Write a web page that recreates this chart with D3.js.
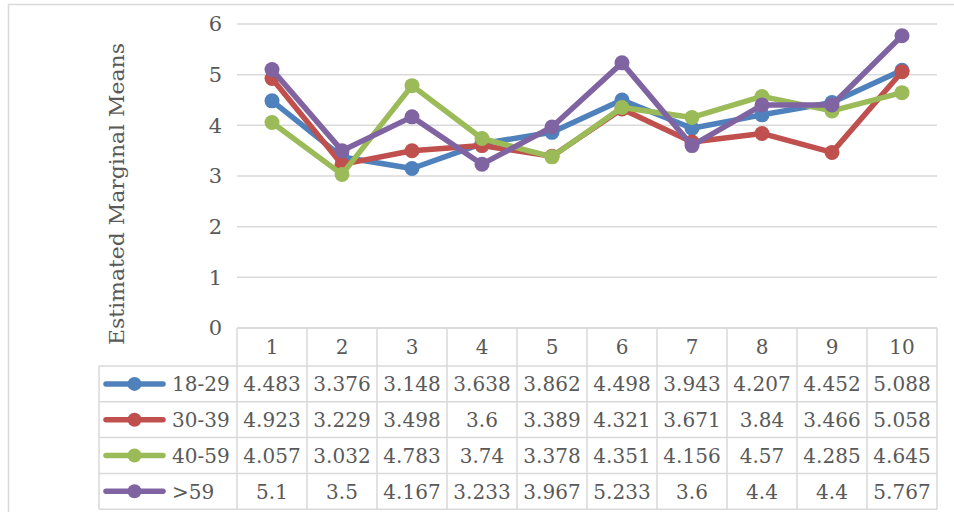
<!DOCTYPE html>
<html>
<head>
<meta charset="utf-8">
<script src="https://cdn.jsdelivr.net/npm/d3@7"></script>
<style>
    body { margin: 0; background: #fff; }
    text { font-family: "DejaVu Serif", serif; fill: #595959; }
</style>
</head>
<body>
<div id="chart"></div>
<script>
// data
const categories = ['1', '2', '3', '4', '5', '6', '7', '8', '9', '10'];
const seriesNames = ['18-29', '30-39', '40-59', '>59'];
const seriesColors = ['#4f81bd', '#c0504d', '#9bbb59', '#8064a2'];
const age1829 = [4.483, 3.376, 3.148, 3.638, 3.862, 4.498, 3.943, 4.207, 4.452, 5.088];
const age3039 = [4.923, 3.229, 3.498, 3.6, 3.389, 4.321, 3.671, 3.84, 3.466, 5.058];
const age4059 = [4.057, 3.032, 4.783, 3.74, 3.378, 4.351, 4.156, 4.57, 4.285, 4.645];
const age59 = [5.1, 3.5, 4.167, 3.233, 3.967, 5.233, 3.6, 4.4, 4.4, 5.767];
const yTicks = [0, 1, 2, 3, 4, 5, 6];

const seriesValues = [age1829, age3039, age4059, age59];
const series = seriesNames.map((name, i) => ({name: name, color: seriesColors[i], values: seriesValues[i]}));

const W = 954, H = 512;
const plot = {left: 237, right: 937, top: 24, bottom: 328};
const headerH = 38, rowH = 35.8;
const keyLeft = 99;

const svg = d3.select('#chart').append('svg')
    .attr('width', W)
    .attr('height', H);

// outer chart border (runs off the picture on the right and bottom)
svg.append('rect')
    .attr('x', 8.5).attr('y', 4.5)
    .attr('width', W + 20).attr('height', H + 20)
    .attr('fill', 'none')
    .attr('stroke', '#d9d9d9')
    .attr('stroke-width', 1.5);

const x = d3.scaleBand()
    .domain(categories)
    .range([plot.left, plot.right]);

const y = d3.scaleLinear()
    .domain([0, 6])
    .range([plot.bottom, plot.top]);

// gridlines
svg.append('g')
    .selectAll('line')
    .data(yTicks)
    .enter()
    .append('line')
    .attr('x1', plot.left)
    .attr('x2', plot.right)
    .attr('y1', d => y(d))
    .attr('y2', d => y(d))
    .attr('stroke', '#d9d9d9')
    .attr('stroke-width', 1.5);

// y axis labels
const yAxis = svg.append('g')
    .attr('transform', `translate(${plot.left - 15}, 0)`)
    .call(d3.axisLeft(y).tickValues(yTicks).tickFormat(d3.format('d')).tickSize(0).tickPadding(0));
yAxis.select('.domain').remove();
yAxis.selectAll('text')
    .style('font-size', '21px')
    .style('font-family', '"DejaVu Serif", serif')
    .attr('fill', '#595959');

// y axis title
svg.append('text')
    .attr('transform', `translate(124, 194) rotate(-90)`)
    .attr('text-anchor', 'middle')
    .style('font-size', '21px')
    .attr('textLength', 302)
    .attr('lengthAdjust', 'spacingAndGlyphs')
    .text('Estimated Marginal Means');

// lines and markers
const line = d3.line()
    .x((d, i) => x(categories[i]) + x.bandwidth() / 2)
    .y(d => y(d));

series.forEach(s => {
    const g = svg.append('g');
    g.append('path')
        .datum(s.values)
        .attr('d', line)
        .attr('fill', 'none')
        .attr('stroke', s.color)
        .attr('stroke-width', 5.5)
        .attr('stroke-linejoin', 'round');
    g.selectAll('circle')
        .data(s.values)
        .enter()
        .append('circle')
        .attr('cx', (d, i) => x(categories[i]) + x.bandwidth() / 2)
        .attr('cy', d => y(d))
        .attr('r', 7.5)
        .attr('fill', s.color);
});

// data table
const table = svg.append('g');
const tableTop = plot.bottom;
const rowsBottom = tableTop + headerH + rowH * series.length;
const gridColor = '#d9d9d9';

// horizontal lines
table.append('line')
    .attr('x1', plot.left).attr('x2', plot.right)
    .attr('y1', tableTop).attr('y2', tableTop)
    .attr('stroke', gridColor).attr('stroke-width', 1.5);
d3.range(series.length + 1).forEach(i => {
    const yy = tableTop + headerH + i * rowH;
    table.append('line')
        .attr('x1', keyLeft).attr('x2', plot.right)
        .attr('y1', yy).attr('y2', yy)
        .attr('stroke', gridColor).attr('stroke-width', 1.5);
});

// vertical lines
table.append('line')
    .attr('x1', keyLeft).attr('x2', keyLeft)
    .attr('y1', tableTop + headerH).attr('y2', rowsBottom)
    .attr('stroke', gridColor).attr('stroke-width', 1.5);
categories.forEach(c => {
    table.append('line')
        .attr('x1', x(c)).attr('x2', x(c))
        .attr('y1', tableTop).attr('y2', rowsBottom)
        .attr('stroke', gridColor).attr('stroke-width', 1.5);
});
table.append('line')
    .attr('x1', plot.right).attr('x2', plot.right)
    .attr('y1', tableTop).attr('y2', rowsBottom)
    .attr('stroke', gridColor).attr('stroke-width', 1.5);

// header (category labels)
table.selectAll('.cat')
    .data(categories)
    .enter()
    .append('text')
    .attr('class', 'cat')
    .attr('x', d => x(d) + x.bandwidth() / 2)
    .attr('y', tableTop + headerH / 2)
    .attr('dy', '0.36em')
    .attr('text-anchor', 'middle')
    .style('font-size', '20px')
    .text(d => d);

// rows
series.forEach((s, i) => {
    const cy = tableTop + headerH + i * rowH + rowH / 2;
    // legend key
    table.append('line')
        .attr('x1', keyLeft + 7).attr('x2', keyLeft + 64)
        .attr('y1', cy).attr('y2', cy)
        .attr('stroke', s.color)
        .attr('stroke-width', 5.5)
        .attr('stroke-linecap', 'round');
    table.append('circle')
        .attr('cx', keyLeft + 35.5).attr('cy', cy)
        .attr('r', 7)
        .attr('fill', s.color);
    table.append('text')
        .attr('x', keyLeft + 73)
        .attr('y', cy)
        .attr('dy', '0.36em')
        .style('font-size', '20px')
        .text(s.name);
    table.selectAll('.v' + i)
        .data(s.values)
        .enter()
        .append('text')
        .attr('x', (d, j) => x(categories[j]) + x.bandwidth() / 2)
        .attr('y', cy)
        .attr('dy', '0.36em')
        .attr('text-anchor', 'middle')
        .style('font-size', '20px')
        .text(d => String(d));
});
</script>
</body>
</html>
